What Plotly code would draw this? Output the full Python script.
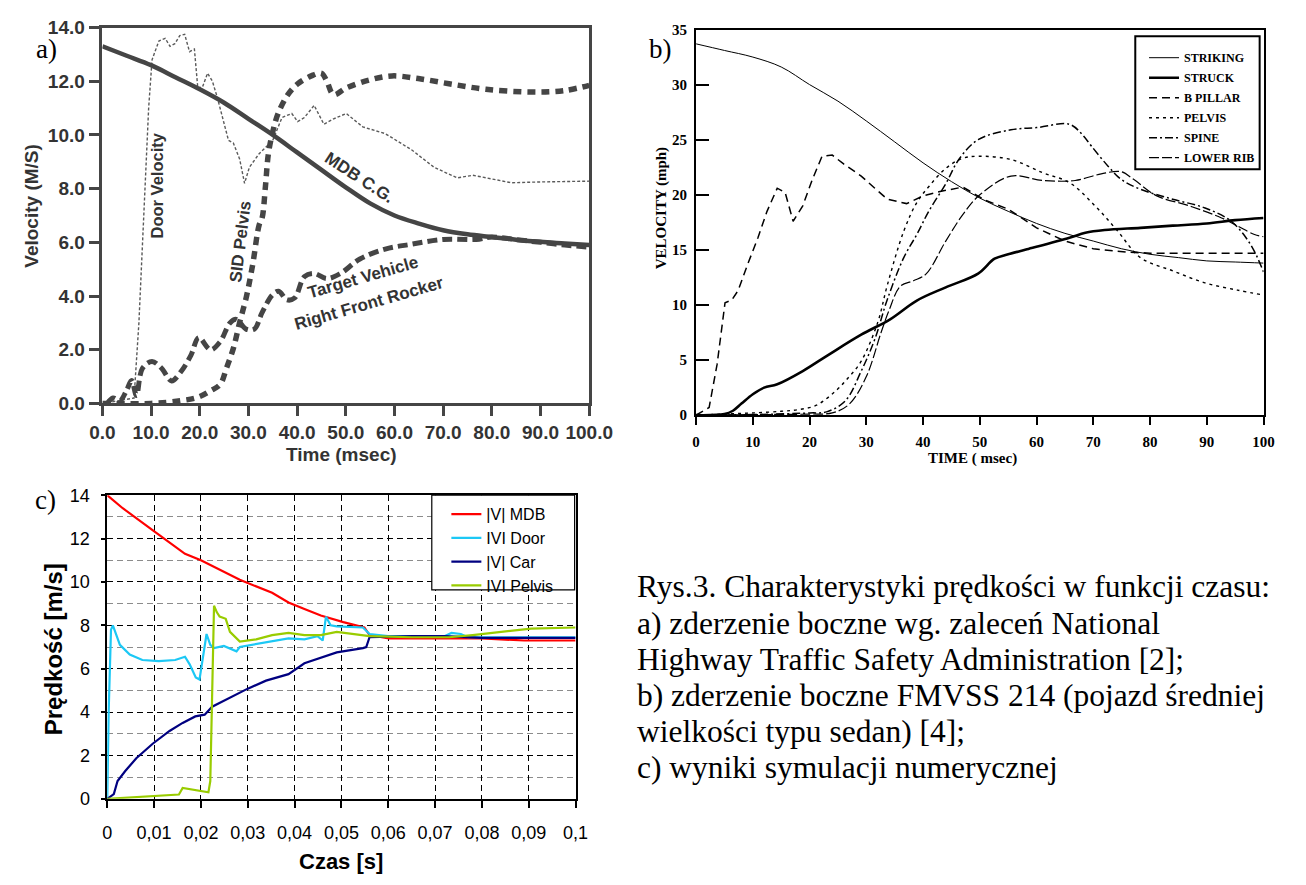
import plotly.graph_objects as go

W, H = 1306, 885
def PX(x): return x / W
def PY(y): return 1 - y / H

# ---------------- Panel a data (m/s vs msec) ----------------
a_mdb_t = [0, 5, 10, 15, 20, 25, 30, 35, 40, 45, 50, 55, 60, 65, 70, 75, 80, 85, 90, 95, 100]
a_mdb_v = [13.3, 12.95, 12.6, 12.15, 11.7, 11.2, 10.6, 10.0, 9.35, 8.7, 8.05, 7.45, 7.0, 6.7, 6.45, 6.3, 6.2, 6.1, 6.02, 5.96, 5.9]

a_door_t = [0, 6.5, 7.5, 8.5, 9.5, 10.2, 11.6, 12.9, 13.9, 14.9, 15.9, 16.9, 17.9, 18.9, 19.6, 20.6, 21.6, 22.6, 23.6,
            25.9, 26.9, 28.2, 29.2, 30.2, 32.2, 35, 36.9, 38.9, 40.1, 41.5, 43.5, 45.5, 47.5, 50.1, 53.5, 58.1, 63.5,
            68.1, 72.9, 76.1, 80, 84, 90, 100]
a_door_v = [0, 0.2, 3, 7, 11, 12.8, 13.5, 13.6, 13.3, 13.4, 13.7, 13.75, 13.1, 13.2, 11.75, 11.8, 12.3, 12.0, 11.4,
            9.8, 9.7, 9.1, 8.2, 8.8, 9.3, 9.8, 10.65, 10.8, 10.5, 10.65, 11.1, 10.4, 10.6, 10.8, 10.3, 10.05, 9.45,
            8.8, 8.4, 8.5, 8.35, 8.22, 8.25, 8.28]

a_pelvis_t = [0, 10, 16, 19.6, 22.2, 24.2, 25.5, 26.9, 28.2, 29.6, 30.9, 32.2, 32.8, 33.5, 34.1, 35.1, 36.1, 38.1,
              40.1, 42.9, 45.0, 46.1, 47.5, 50.1, 54.9, 59.5, 64.9, 71.5, 78.8, 88, 94.8, 100]
a_pelvis_v = [0, 0, 0.1, 0.23, 0.47, 0.71, 1.32, 2.05, 3.02, 3.99, 5.2, 6.65, 6.9, 8.1, 9.3, 10.2, 10.8, 11.5,
              11.9, 12.2, 12.3, 12.0, 11.5, 11.75, 12.05, 12.2, 12.1, 11.9, 11.7, 11.6, 11.65, 11.85]

a_rocker_t = [1, 2.2, 3.6, 5, 6, 7, 8.2, 10.2, 12.2, 14.2, 16.2, 18.2, 19.8, 22.2, 24.2, 26.2, 27.5, 29.5, 31.2,
              32.8, 34.9, 36.2, 37.9, 39.5, 41.5, 43.5, 46.1, 48.9, 52.9, 58.1, 63.5, 70.1, 76.8, 80, 85, 90, 95, 100]
a_rocker_v = [0, 0.2, 0.1, 0.5, 0.85, 0.3, 1.3, 1.56, 1.3, 0.84, 1.2, 1.8, 2.45, 2.0, 2.3, 3.0, 3.13, 2.77, 2.77,
              3.38, 4.04, 4.18, 3.86, 3.93, 4.72, 4.84, 4.65, 4.84, 5.38, 5.75, 5.93, 6.11, 6.11, 6.2, 6.1, 6.0, 5.9, 5.82]

a_xticks = [0, 10, 20, 30, 40, 50, 60, 70, 80, 90, 100]
a_xticktext = ["0.0", "10.0", "20.0", "30.0", "40.0", "50.0", "60.0", "70.0", "80.0", "90.0", "100.0"]
a_yticks = [0, 2, 4, 6, 8, 10, 12, 14]
a_yticktext = ["0.0", "2.0", "4.0", "6.0", "8.0", "10.0", "12.0", "14.0"]

# ---------------- Panel b data (mph vs msec) ----------------
b_striking_t = [0, 5, 10, 15, 20, 25, 30, 35, 40, 45, 50, 55, 60, 65, 70, 75, 80, 85, 90, 95, 100]
b_striking_v = [33.7, 33.1, 32.5, 31.6, 30.0, 28.5, 26.7, 24.8, 22.9, 21.2, 19.7, 18.5, 17.4, 16.5, 15.8, 15.1,
                14.6, 14.3, 14.0, 13.9, 13.8]

b_struck_t = [0, 5, 6.5, 8, 10, 12, 14.3, 18.8, 23.4, 29.1, 34.2, 38.9, 44, 49.7, 52.6, 55, 58.3, 65.8, 68.6, 72,
              78.3, 84, 90, 95, 100]
b_struck_v = [0, 0.1, 0.4, 1.05, 1.9, 2.5, 2.8, 4.0, 5.5, 7.3, 8.7, 10.4, 11.6, 12.85, 14.2, 14.6, 15.05, 16.1,
              16.55, 16.8, 17.0, 17.2, 17.4, 17.7, 17.9]

b_bpillar_t = [0, 2.3, 3.7, 4.6, 5.1, 6.3, 7.4, 9.1, 10.9, 12.5, 14.3, 15.7, 17.1, 18.8, 20.5, 22.2, 24, 26, 29.1,
               31.5, 33.7, 37.1, 40, 43, 47, 51, 55, 60, 65, 70, 76, 80, 90, 100]
b_bpillar_v = [0, 0.7, 4.6, 8.4, 10.2, 10.45, 11.3, 13.7, 16.1, 18.5, 20.6, 20.2, 17.6, 19.0, 21.4, 23.5, 23.6,
               22.8, 21.7, 20.6, 19.6, 19.2, 19.9, 20.3, 20.7, 19.5, 18.7, 17.0, 15.8, 15.1, 14.8, 14.7, 14.7, 14.7]

b_pelvis_t = [0, 5, 10, 15, 18, 21.2, 24.6, 27, 29.1, 32, 33.7, 36.6, 38.9, 41.1, 44, 46.9, 49.7, 55.5, 61.1, 65.8,
              70.3, 74.3, 78.3, 84, 89.7, 95.4, 100]
b_pelvis_v = [0, 0.1, 0.2, 0.35, 0.5, 0.9, 2.2, 3.5, 4.9, 8.4, 11.8, 16.7, 19.3, 20.8, 22.4, 23.3, 23.5, 23.2,
              22.0, 21.1, 19.0, 16.7, 14.3, 13.1, 12.0, 11.35, 10.9]

b_spine_t = [0, 10, 20, 23, 26.3, 29.1, 31.5, 33.7, 36.6, 38.9, 41, 44, 46.3, 49.7, 55.5, 60, 65.8, 68, 69.7, 72.6,
             74.9, 78.3, 84, 89.7, 94.3, 97.7, 100]
b_spine_v = [0, 0.05, 0.2, 0.3, 1.3, 4.0, 6.9, 10.5, 14.3, 16.4, 18.5, 21.0, 23.2, 25.0, 25.9, 26.1, 26.4, 25.5,
             24.4, 22.6, 21.4, 20.5, 19.6, 18.8, 17.6, 15.5, 13.0]

b_lowerrib_t = [0, 10, 20, 24, 27, 30, 32.6, 34, 36, 38.3, 40.5, 44, 47, 50, 55.5, 61.1, 66.8, 71.4, 74.9, 77.1,
                81.2, 86.9, 92.6, 98.4, 100]
b_lowerrib_v = [0, 0.05, 0.1, 0.2, 1.0, 3.5, 7.5, 9.5, 11.7, 12.2, 12.8, 15.8, 18.2, 20.0, 21.7, 21.3, 21.3, 21.9,
                22.1, 21.4, 19.9, 19.0, 17.9, 16.4, 16.2]

b_xticks = [0, 10, 20, 30, 40, 50, 60, 70, 80, 90, 100]
b_yticks = [0, 5, 10, 15, 20, 25, 30, 35]

# ---------------- Panel c data (m/s vs s) ----------------
c_mdb_t = [0, 0.0033, 0.0096, 0.0166, 0.02, 0.0283, 0.0352, 0.0387, 0.0421, 0.0456, 0.0504, 0.0549, 0.056, 0.0601,
           0.07, 0.08, 0.089, 0.1]
c_mdb_v = [14.0, 13.4, 12.4, 11.3, 11.0, 10.1, 9.5, 9.05, 8.75, 8.45, 8.15, 7.9, 7.55, 7.4, 7.4, 7.4, 7.3, 7.3]

c_door_t = [0, 0.0003, 0.0008, 0.0012, 0.0027, 0.0048, 0.0075, 0.011, 0.0145, 0.0166, 0.0176, 0.0189, 0.0197,
            0.0207, 0.0212, 0.022, 0.0228, 0.0249, 0.0276, 0.0283, 0.0352, 0.0387, 0.0421, 0.0449, 0.046, 0.0467,
            0.0477, 0.049, 0.0546, 0.056, 0.06, 0.072, 0.0735, 0.0755, 0.077, 0.1]
c_door_v = [0, 4.0, 7.8, 8.0, 7.1, 6.65, 6.4, 6.35, 6.4, 6.55, 6.2, 5.6, 5.5, 7.0, 7.6, 7.1, 6.95, 7.05, 6.8, 7.0,
            7.25, 7.4, 7.35, 7.5, 7.3, 8.4, 8.0, 7.95, 7.9, 7.6, 7.5, 7.5, 7.65, 7.6, 7.45, 7.45]

c_car_t = [0, 0.0014, 0.0022, 0.0038, 0.0062, 0.0097, 0.0133, 0.0161, 0.0188, 0.0208, 0.0224, 0.026, 0.0299,
           0.0339, 0.0387, 0.0421, 0.0463, 0.049, 0.0546, 0.0553, 0.056, 0.065, 0.072, 0.08, 0.1]
c_car_v = [0, 0.22, 0.82, 1.27, 1.87, 2.54, 3.13, 3.5, 3.8, 3.88, 4.25, 4.63, 5.07, 5.45, 5.75, 6.25, 6.55, 6.75,
           6.95, 7.0, 7.45, 7.5, 7.5, 7.42, 7.42]

c_pelvis_t = [0, 0.0062, 0.0133, 0.0153, 0.0161, 0.0173, 0.0196, 0.0216, 0.022, 0.0228, 0.0234, 0.024, 0.0253,
              0.0262, 0.0283, 0.0318, 0.0352, 0.0387, 0.0421, 0.0456, 0.049, 0.056, 0.065, 0.073, 0.078, 0.0836,
              0.0905, 0.1]
c_pelvis_v = [0, 0.07, 0.15, 0.2, 0.5, 0.45, 0.37, 0.3, 0.82, 8.9, 8.6, 8.4, 8.3, 7.7, 7.25, 7.35, 7.55, 7.65,
              7.55, 7.55, 7.7, 7.5, 7.45, 7.45, 7.55, 7.7, 7.85, 7.9]

c_xticks = [0, 0.01, 0.02, 0.03, 0.04, 0.05, 0.06, 0.07, 0.08, 0.09, 0.1]
c_xticktext = ["0", "0,01", "0,02", "0,03", "0,04", "0,05", "0,06", "0,07", "0,08", "0,09", "0,1"]
c_yticks = [0, 2, 4, 6, 8, 10, 12, 14]

caption_lines = [
    "Rys.3. Charakterystyki prędkości w funkcji czasu:",
    "a) zderzenie boczne wg. zaleceń National",
    "Highway Traffic Safety Administration [2];",
    "b) zderzenie boczne FMVSS 214 (pojazd średniej",
    "wielkości typu sedan) [4];",
    "c) wyniki symulacji numerycznej",
]

fig = go.Figure()

GA = "#454545"
# Panel a traces
fig.add_trace(go.Scatter(x=a_door_t, y=a_door_v, mode="lines", line=dict(color="#5a5a5a", width=1.4, dash="3px,2px"),
                         xaxis="x", yaxis="y", showlegend=False))
fig.add_trace(go.Scatter(x=a_mdb_t, y=a_mdb_v, mode="lines", line=dict(color=GA, width=4.5, shape="spline"),
                         xaxis="x", yaxis="y", showlegend=False))
fig.add_trace(go.Scatter(x=a_pelvis_t, y=a_pelvis_v, mode="lines", line=dict(color=GA, width=5.5, dash="8px,6px", shape="spline"),
                         xaxis="x", yaxis="y", showlegend=False))
fig.add_trace(go.Scatter(x=a_rocker_t, y=a_rocker_v, mode="lines", line=dict(color=GA, width=5, dash="10px,5px", shape="spline"),
                         xaxis="x", yaxis="y", showlegend=False))

# Panel b traces
bnames = ["STRIKING", "STRUCK", "B PILLAR", "PELVIS", "SPINE", "LOWER RIB"]
bdata = [(b_striking_t, b_striking_v, dict(color="black", width=1, shape="spline")),
         (b_struck_t, b_struck_v, dict(color="black", width=2.6, shape="spline")),
         (b_bpillar_t, b_bpillar_v, dict(color="black", width=1.5, dash="8px,5px")),
         (b_pelvis_t, b_pelvis_v, dict(color="black", width=1.4, dash="3px,4px", shape="spline")),
         (b_spine_t, b_spine_v, dict(color="black", width=1.5, dash="8px,3px,2px,3px", shape="spline")),
         (b_lowerrib_t, b_lowerrib_v, dict(color="black", width=1.2, dash="10px,3px", shape="spline"))]
for name, (tt, vv, ln) in zip(bnames, bdata):
    fig.add_trace(go.Scatter(x=tt, y=vv, name=name, line=ln, xaxis="x2", yaxis="y2", mode="lines",
                             legend="legend", legendgroup=name))

# Panel c traces
cnames = ["|V| MDB", "IVI Door", "|V| Car", "IVI Pelvis"]
cdata = [(c_mdb_t, c_mdb_v, "#FF0000"), (c_door_t, c_door_v, "#1CC8F5"),
         (c_car_t, c_car_v, "#000080"), (c_pelvis_t, c_pelvis_v, "#99CC00")]
for name, (tt, vv, col) in zip(cnames, cdata):
    fig.add_trace(go.Scatter(x=tt, y=vv, name=name, line=dict(color=col, width=2.2), xaxis="x3", yaxis="y3",
                             mode="lines", legend="legend2"))

afont = dict(family="Liberation Sans", size=19, color="#333", weight="bold")
bfont = dict(family="Liberation Serif", size=15, color="black", weight="bold")
cfont = dict(family="Liberation Sans", size=18, color="black")

shapes = [
    dict(type="rect", xref="paper", yref="paper", x0=PX(1155), x1=PX(1283), y0=PY(163), y1=PY(27),
         line=dict(color="black", width=2), fillcolor="white", layer="above"),
    dict(type="rect", xref="paper", yref="paper", x0=PX(431), x1=PX(578), y0=PY(594), y1=PY(497),
         line=dict(color="black", width=1.2), fillcolor="white", layer="above"),
]

fig.update_layout(
    width=W, height=H, margin=dict(l=0, r=0, t=0, b=0),
    paper_bgcolor="white", plot_bgcolor="rgba(0,0,0,0)",
    font=dict(family="Liberation Sans"),
    shapes=shapes,
    xaxis=dict(domain=[PX(92), PX(593)], range=[0, 100], anchor="y", showline=True, linecolor=GA, linewidth=2.5,
               mirror=True, ticks="outside", ticklen=10, tickwidth=2.5, tickcolor=GA, tickvals=a_xticks,
               ticktext=a_xticktext, tickfont=afont, showgrid=False, zeroline=False),
    yaxis=dict(domain=[PY(403), PY(18)], range=[0, 14], anchor="x", showline=True, linecolor=GA, linewidth=2.5,
               mirror=True, ticks="outside", ticklen=11, tickwidth=2.5, tickcolor=GA, tickvals=a_yticks,
               ticktext=a_yticktext, tickfont=afont, showgrid=False, zeroline=False),
    xaxis2=dict(domain=[PX(703), PX(1287)], range=[0, 100], anchor="y2", showline=True, linecolor="black", linewidth=2,
                mirror=True, ticks="outside", ticklen=8, tickwidth=2, tickcolor="black", tickvals=b_xticks,
                tickfont=bfont, showgrid=False, zeroline=False, ticklabelstandoff=4),
    yaxis2=dict(domain=[PY(415), PY(20)], range=[0, 35], anchor="x2", showline=True, linecolor="black", linewidth=2,
                mirror=True, ticks="inside", ticklen=13, tickwidth=2, tickcolor="black", tickvals=b_yticks,
                tickfont=bfont, showgrid=False, zeroline=False, ticklabelstandoff=4),
    xaxis3=dict(domain=[PX(97), PX(579)], range=[0, 0.1], anchor="y3", showline=True, linecolor="black", linewidth=1.5,
                mirror=True, ticks="outside", ticklen=7, tickwidth=1.5, tickcolor="black", tickvals=c_xticks,
                ticktext=c_xticktext, tickfont=cfont, showgrid=True, gridcolor="black", gridwidth=1,
                griddash="6px,4px", zeroline=False, ticklabelstandoff=10),
    yaxis3=dict(domain=[PY(808), PY(497)], range=[0, 14], anchor="x3", showline=True, linecolor="black", linewidth=1.5,
                mirror=True, ticks="outside", ticklen=5, tickwidth=1.5, tickcolor="black", tickvals=c_yticks,
                tickfont=cfont, showgrid=True, gridcolor="black", gridwidth=1, griddash="6px,4px", zeroline=False,
                ticklabelstandoff=7,
                minor=dict(dtick=1, showgrid=True, gridcolor="#8c8c8c", gridwidth=1, griddash="6px,4px")),
    legend=dict(x=PX(1164), y=PY(34), xanchor="left", yanchor="top", bgcolor="rgba(0,0,0,0)",
                borderwidth=0, font=dict(family="Liberation Serif", size=12, color="black", weight="bold"),
                itemwidth=30, tracegroupgap=1),
    legend2=dict(x=PX(446), y=PY(499), xanchor="left", yanchor="top", bgcolor="rgba(0,0,0,0)",
                 borderwidth=0, font=dict(family="Liberation Sans", size=16, color="black"), itemwidth=30),
)

ann = []
def note(text, x, y, size, angle=0, family="Liberation Sans", bold=True, color="#333", xanchor="center"):
    ann.append(dict(text=text, x=PX(x), y=PY(y), xref="paper", yref="paper", showarrow=False, textangle=angle,
                    xanchor=xanchor, yanchor="middle",
                    font=dict(family=family, size=size, color=color, weight="bold" if bold else "normal")))

# Panel a labels
note("Velocity (M/S)", 19, 200, 19, -90)
note("Time (msec)", 338, 455, 19)
note("Door Velocity", 148, 180, 16.5, -90)
note("SID Pelvis", 234, 237, 17, -83)
note("MDB C.G.", 356, 172, 17, 33)
note("Target Vehicle", 360, 274, 17, -16)
note("Right Front Rocker", 366, 301, 17, -16)
note("a)", 34, 40, 27, family="Liberation Serif", bold=False, color="black")
# Panel b labels
note("VELOCITY (mph)", 667, 203, 15, -90, family="Liberation Serif", color="black")
note("TIME ( msec)", 987, 459, 15, family="Liberation Serif", color="black")
note("b)", 666, 40, 27, family="Liberation Serif", bold=False, color="black")
# Panel c labels
note("Prędkość [m/s]", 42, 655, 24, -90, color="black")
note("Czas [s]", 338, 872, 22, color="black")
note("c)", 33, 502, 27, family="Liberation Serif", bold=False, color="black")
# Caption
for i, line in enumerate(caption_lines):
    note(line, 640, 591 + 37 * i, 31.5, family="Liberation Serif", bold=False, color="black", xanchor="left")

fig.update_layout(annotations=ann)
fig.write_html("out.html")
